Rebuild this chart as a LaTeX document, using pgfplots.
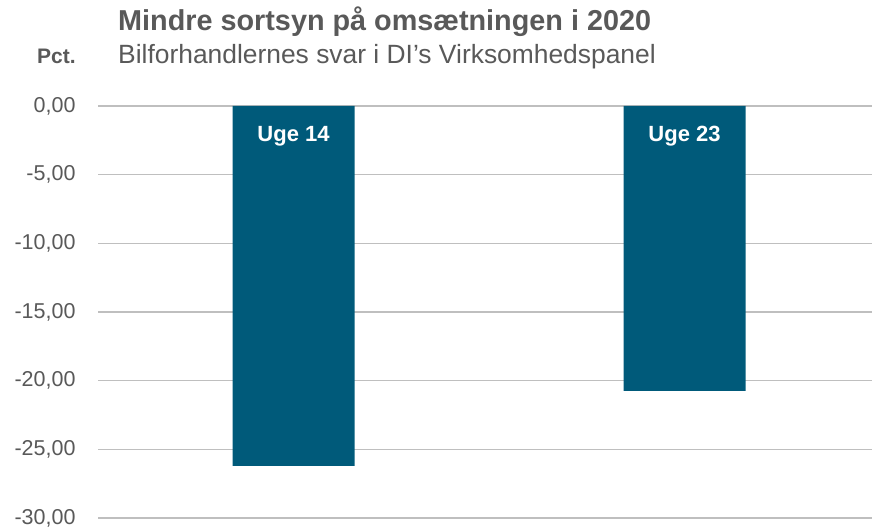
\documentclass[border=0pt]{standalone}
\usepackage{pgfplots}
\pgfplotsset{compat=1.18}
\usepackage{fontspec}
\setmainfont{Liberation Sans}
\definecolor{barc}{HTML}{005A7A}
\definecolor{txt}{HTML}{595959}
\definecolor{grid}{HTML}{D9D9D9}
\begin{document}
\begin{tikzpicture}
\node[anchor=base west,text=txt,font=\fontsize{28.8}{32}\selectfont\bfseries,inner sep=0] at (118pt,499pt) {Mindre sortsyn på omsætningen i 2020};
\node[anchor=base west,text=txt,font=\fontsize{26.4}{30}\selectfont,inner sep=0] at (118pt,466pt) {Bilforhandlernes svar i DI's Virksomhedspanel};
\node[anchor=base west,text=txt,font=\fontsize{21}{24}\selectfont\bfseries,inner sep=0] at (37pt,466pt) {Pct.};
\begin{axis}[
  at={(98pt,12pt)}, anchor=south west,
  scale only axis, width=782pt, height=412pt,
  xmin=-0.5, xmax=1.5, ymin=-30, ymax=0,
  ytick={-30,-25,...,0},
  xtick=\empty,
  axis line style={draw=none},
  major tick length=0pt,
  ymajorgrids, grid style={grid, line width=1.5pt},
  yticklabel style={text=txt, font=\fontsize{21.5}{24}\selectfont},
  /pgf/number format/assume math mode=true,
  /pgf/number format/.cd, fixed, fixed zerofill, precision=2, use comma, 1000 sep={},
  /pgfplots/.cd,
  yticklabel={\pgfmathprintnumber{\tick}},
  yticklabel style={xshift=-19pt},
  clip=false,
]
\addplot[ybar, bar width=122pt, fill=barc, draw=none] coordinates {(0,-26.2) (1,-20.75)};
\node[text=white, font=\fontsize{22}{24}\selectfont\bfseries] at (axis cs:0,-2.2) {Uge 14};
\node[text=white, font=\fontsize{22}{24}\selectfont\bfseries] at (axis cs:1,-2.2) {Uge 23};
\end{axis}
\pgfresetboundingbox
\path[use as bounding box] (0pt,0pt) rectangle (872pt,530pt);
\end{tikzpicture}
\end{document}
